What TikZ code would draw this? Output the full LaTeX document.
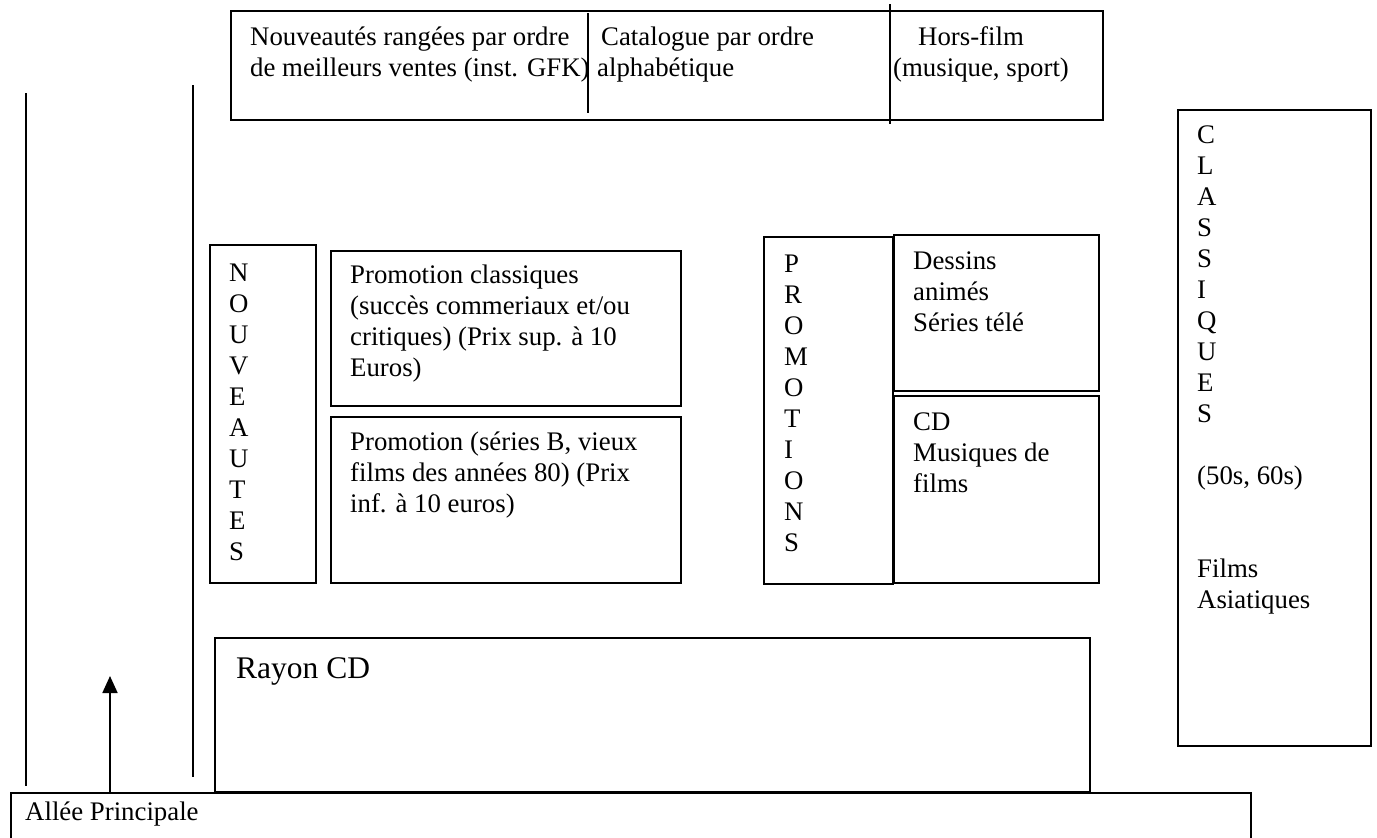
\documentclass[tikz,border=0pt]{standalone}
\usepackage{fontspec}
\setmainfont{Liberation Serif}
\usetikzlibrary{arrows.meta}
\newcommand{\stack}[1]{\begin{tabular}[t]{@{}l@{}}#1\end{tabular}}
\begin{document}
\begin{tikzpicture}[x=1pt,y=-1pt,
  box/.style={draw=black,line width=1.8pt,rectangle,inner sep=0pt,anchor=north west},
  txt/.style={anchor=base west,inner sep=0pt,font=\fontsize{26.8}{31}\selectfont},
  bigtxt/.style={anchor=base west,inner sep=0pt,font=\fontsize{31.5}{36}\selectfont},
  wall/.style={line width=1.8pt},
  arr/.style={line width=1.8pt,-{Triangle[width=15pt,length=17pt]}}]
\useasboundingbox (0,0) rectangle (1377,838);
\clip (0,0) rectangle (1377,838);
% top shelf
\node[box,minimum width=872pt,minimum height=109pt] (top) at (230,10) {};
\coordinate (d1a) at (588,13); \coordinate (d1b) at (588,113);
\coordinate (d2a) at (890,4); \coordinate (d2b) at (890,124);
\draw[wall] (d1a) -- (d1b);
\draw[wall] (d2a) -- (d2b);
\node[txt] (t1) at (250,45) {\stack{Nouveautés rangées par ordre\\de meilleurs ventes (inst. GFK)}};
\node[txt] (t2) at (597,45) {\stack{\hspace{4pt}Catalogue par ordre\\alphabétique}};
\node[txt] (t3) at (893,45) {\stack{\hspace{25pt}Hors-film\\(musique, sport)}};
% aisle walls
\coordinate (w1a) at (26,93); \coordinate (w1b) at (26,786);
\coordinate (w2a) at (193,85); \coordinate (w2b) at (193,777);
\draw[wall] (w1a) -- (w1b);
\draw[wall] (w2a) -- (w2b);
% nouveautes
\node[box,minimum width=106pt,minimum height=338pt] (nouv) at (209,244) {};
\node[txt] (nouvt) at (229,281) {\stack{N\\O\\U\\V\\E\\A\\U\\T\\E\\S}};
\node[box,minimum width=350pt,minimum height=155pt] (pc) at (330,250) {};
\node[txt] (pct) at (350,283) {\stack{Promotion classiques\\(succès commeriaux et/ou\\critiques) (Prix sup. à 10\\Euros)}};
\node[box,minimum width=350pt,minimum height=166pt] (pb) at (330,416) {};
\node[txt] (pbt) at (350,450) {\stack{Promotion (séries B, vieux\\films des années 80) (Prix\\inf. à 10 euros)}};
% promotions
\node[box,minimum width=129pt,minimum height=347pt] (promo) at (763,236) {};
\node[txt] (promot) at (784,272) {\stack{P\\R\\O\\M\\O\\T\\I\\O\\N\\S}};
\node[box,minimum width=205pt,minimum height=156pt] (dess) at (893,234) {};
\node[txt] (desst) at (913,269) {\stack{Dessins\\animés\\Séries télé}};
\node[box,minimum width=205pt,minimum height=187pt] (cd) at (893,395) {};
\node[txt] (cdt) at (913,430) {\stack{CD\\Musiques de\\films}};
% classiques
\node[box,minimum width=193pt,minimum height=636pt] (class) at (1177,109) {};
\node[txt] (classt) at (1197,143) {\stack{C\\L\\A\\S\\S\\I\\Q\\U\\E\\S\\ \\(50s, 60s)\\ \\ \\Films\\Asiatiques}};
% rayon CD
\node[box,minimum width=875pt,minimum height=154pt] (rayon) at (214,637) {};
\node[bigtxt] (rayont) at (236,678) {Rayon CD};
% allee principale
\node[box,minimum width=1240pt,minimum height=80pt] (allee) at (10,792) {};
\node[txt] (alleet) at (25,820) {Allée Principale};
\coordinate (afoot) at (110,792);
\coordinate (atip) at (110,676);
\draw[arr] (afoot) -- (atip);
\end{tikzpicture}
\end{document}
